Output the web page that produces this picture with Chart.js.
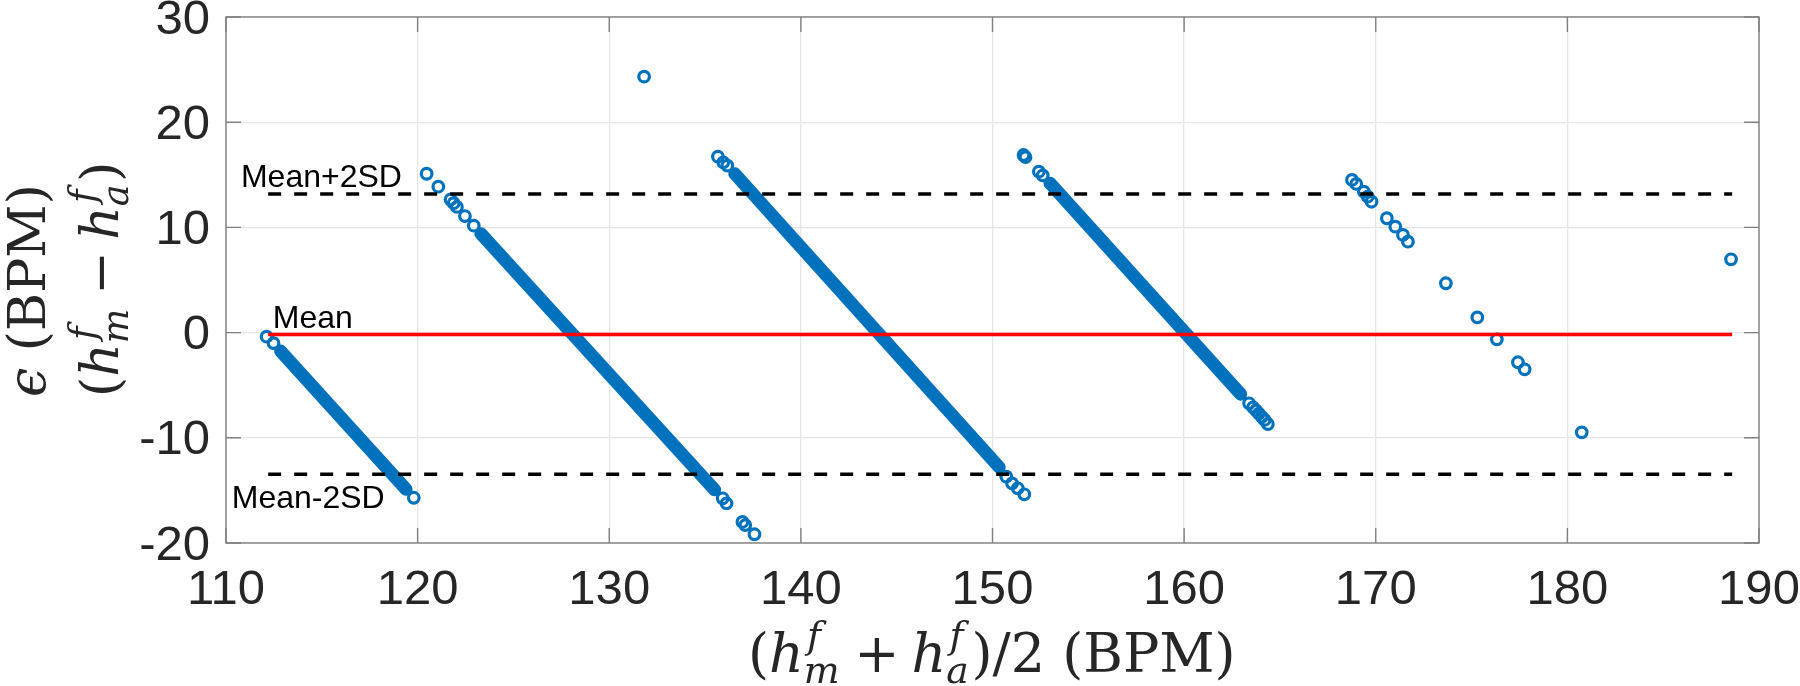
<!DOCTYPE html>
<html>
<head>
<meta charset="utf-8">
<script src="https://cdn.jsdelivr.net/npm/chart.js@4.4.1/dist/chart.umd.min.js"></script>
<style>
  html, body { margin: 0; padding: 0; background: #fff; }
</style>
</head>
<body>
<canvas id="baChart" width="1800" height="686"></canvas>
<script>
// axis ticks
const xTicks = [110, 120, 130, 140, 150, 160, 170, 180, 190];
const yTicks = [-20, -10, 0, 10, 20, 30];

// stretches where the markers overlap into a solid band (start / end of each)
const bandStartX = [112.85, 123.3, 136.55, 153.0];
const bandStartY = [-1.75, 9.4, 15.1, 14.2];
const bandEndX = [119.4, 135.5, 150.35, 162.95];
const bandEndY = [-14.9, -14.95, -12.8, -5.85];

// markers that can be seen on their own
const pointX = [
  112.12, 112.48, 119.8,
  120.47, 121.08, 121.72, 121.88, 122.05, 122.47, 122.93, 135.92, 136.12, 136.95, 137.1, 137.58,
  135.67, 135.95, 136.16, 150.72, 151.02, 151.32, 151.66,
  151.62, 151.72, 152.42, 152.62, 163.39, 163.6, 163.75, 163.9, 164.05, 164.2, 164.37,
  168.76, 168.98, 169.38, 169.58, 169.78, 170.58, 171.02, 171.42, 171.68, 173.66, 175.3, 176.32, 177.42, 177.77, 180.75,
  131.82, 188.54
];
const pointY = [
  -0.39, -1.0, -15.7,
  15.1, 13.87, 12.65, 12.3, 11.95, 11.08, 10.16, -15.75, -16.23, -18.0, -18.3, -19.17,
  16.72, 16.19, 15.87, -13.7, -14.33, -14.8, -15.37,
  16.88, 16.68, 15.3, 14.95, -6.72, -7.1, -7.4, -7.7, -8.0, -8.3, -8.69,
  14.51, 14.13, 13.39, 12.92, 12.44, 10.87, 10.07, 9.28, 8.64, 4.69, 1.45, -0.64, -2.82, -3.49, -9.48,
  24.33, 6.97
];

// mean and limits of agreement
const limitX = [112.2, 188.6];
const meanDiff = -0.17;
const upperLimit = 13.17;
const lowerLimit = -13.47;

// text labels next to the lines
const labelText = ['Mean+2SD', 'Mean', 'Mean-2SD'];
const labelX = [110.78, 112.44, 110.3];
const labelY = [13.84, 0.44, -16.7];

const BLUE = '#0072BD';
const sans = '"Liberation Sans", Arial, Helvetica, sans-serif';
const serif = '"DejaVu Serif", "Liberation Serif", serif';

function hLine(y) {
  return limitX.map(x => ({ x: x, y: y }));
}

const datasets = [
  { data: hLine(meanDiff), borderColor: '#ff0000', borderWidth: 3.5, showLine: true, pointRadius: 0, order: 0 },
  { data: hLine(upperLimit), borderColor: '#000', borderWidth: 3.5, borderDash: [13, 13], showLine: true, pointRadius: 0, order: 0 },
  { data: hLine(lowerLimit), borderColor: '#000', borderWidth: 3.5, borderDash: [13, 13], showLine: true, pointRadius: 0, order: 0 },
  {
    data: pointX.map((x, i) => ({ x: x, y: pointY[i] })),
    pointStyle: 'circle', pointRadius: 5.3, borderWidth: 3.2,
    borderColor: BLUE, backgroundColor: 'rgba(0,0,0,0)', showLine: false, order: 2
  }
];
bandStartX.forEach((x, i) => {
  datasets.push({
    data: [{ x: x, y: bandStartY[i] }, { x: bandEndX[i], y: bandEndY[i] }],
    borderColor: BLUE, borderWidth: 13, borderCapStyle: 'round',
    showLine: true, pointRadius: 0, order: 3
  });
});

// box round the plot with MATLAB style inward ticks
const boxAndTicks = {
  id: 'boxAndTicks',
  beforeDatasetsDraw(chart) {
    const { ctx, chartArea: a, scales: { x, y } } = chart;
    ctx.save();
    ctx.strokeStyle = '#808080';
    ctx.lineWidth = 1.4;
    ctx.strokeRect(a.left, a.top, a.right - a.left, a.bottom - a.top);
    ctx.beginPath();
    xTicks.forEach(v => {
      const px = x.getPixelForValue(v);
      ctx.moveTo(px, a.bottom); ctx.lineTo(px, a.bottom - 15);
      ctx.moveTo(px, a.top); ctx.lineTo(px, a.top + 15);
    });
    yTicks.forEach(v => {
      const py = y.getPixelForValue(v);
      ctx.moveTo(a.left, py); ctx.lineTo(a.left + 15, py);
      ctx.moveTo(a.right, py); ctx.lineTo(a.right - 15, py);
    });
    ctx.stroke();
    ctx.restore();
  }
};

const lineLabels = {
  id: 'lineLabels',
  afterDatasetsDraw(chart) {
    const { ctx, scales: { x, y } } = chart;
    ctx.save();
    ctx.fillStyle = '#000';
    ctx.font = '32px ' + sans;
    ctx.textAlign = 'left';
    ctx.textBaseline = 'alphabetic';
    labelText.forEach((t, i) => {
      ctx.fillText(t, x.getPixelForValue(labelX[i]), y.getPixelForValue(labelY[i]));
    });
    ctx.restore();
  }
};

// axis titles with sub/superscripts
function fontOf(size, it) {
  return (it ? 'italic ' : '') + size + 'px ' + serif;
}
function drawRich(ctx, parts, size, x0, y0) {
  let x = x0;
  parts.forEach(p => {
    if (p.sp !== undefined) { x += p.sp * size; return; }
    if (p.t !== undefined) {
      ctx.font = fontOf(size, p.it);
      ctx.fillText(p.t, x, y0);
      x += ctx.measureText(p.t).width;
      return;
    }
    ctx.font = fontOf(size * 0.7, true);
    ctx.fillText(p.sup, x + 0.06 * size, y0 - 0.45 * size);
    ctx.fillText(p.sub, x, y0 + 0.2 * size);
    x += Math.max(ctx.measureText(p.sup).width + 0.06 * size, ctx.measureText(p.sub).width) + 0.05 * size;
  });
  return x - x0;
}

const xTitle = [
  { t: '(' }, { t: 'h', it: true }, { sup: 'f', sub: 'm' }, { sp: 0.22 }, { t: '+' }, { sp: 0.22 },
  { t: 'h', it: true }, { sup: 'f', sub: 'a' }, { t: ')/2 (BPM)' }
];
const yTitle1 = [{ t: 'ϵ', it: true }, { t: ' (BPM)' }];
const yTitle2 = [
  { t: '(' }, { t: 'h', it: true }, { sup: 'f', sub: 'm' }, { sp: 0.22 }, { t: '−' }, { sp: 0.22 },
  { t: 'h', it: true }, { sup: 'f', sub: 'a' }, { t: ')' }
];

const axisTitles = {
  id: 'axisTitles',
  afterDraw(chart) {
    const ctx = chart.ctx;
    ctx.save();
    ctx.fillStyle = '#262626';
    ctx.textAlign = 'left';
    ctx.textBaseline = 'alphabetic';
    drawRich(ctx, xTitle, 54, 748, 672);
    ctx.save();
    ctx.translate(45, 397);
    ctx.rotate(-Math.PI / 2);
    drawRich(ctx, yTitle1, 52, 0, 0);
    ctx.restore();
    ctx.save();
    ctx.translate(118, 397);
    ctx.rotate(-Math.PI / 2);
    drawRich(ctx, yTitle2, 52, 0, 0);
    ctx.restore();
    ctx.restore();
  }
};

new Chart(document.getElementById('baChart'), {
  type: 'scatter',
  data: { datasets: datasets },
  options: {
    responsive: false,
    animation: false,
    devicePixelRatio: 1,
    events: [],
    layout: { padding: { top: 17, right: 41, left: 0, bottom: 0 } },
    plugins: { legend: { display: false }, tooltip: { enabled: false } },
    scales: {
      x: {
        type: 'linear', min: 110, max: 190,
        afterBuildTicks: s => { s.ticks = xTicks.map(v => ({ value: v })); },
        afterFit: s => { s.height = 143; s.paddingLeft = 0; s.paddingRight = 0; },
        grid: { color: '#e6e6e6', lineWidth: 1.3, drawTicks: false },
        border: { display: false },
        ticks: {
          color: '#262626', padding: 18, maxRotation: 0, autoSkip: false,
          font: { family: sans, size: 49, lineHeight: 1.2 }
        }
      },
      y: {
        type: 'linear', min: -20, max: 30,
        afterBuildTicks: s => { s.ticks = yTicks.map(v => ({ value: v })); },
        afterFit: s => { s.width = 226; s.paddingTop = 0; s.paddingBottom = 0; },
        grid: { color: '#e6e6e6', lineWidth: 1.3, drawTicks: false },
        border: { display: false },
        ticks: {
          color: '#262626', padding: 16, autoSkip: false, labelOffset: 3,
          font: { family: sans, size: 49, lineHeight: 1.2 }
        }
      }
    }
  },
  plugins: [boxAndTicks, lineLabels, axisTitles]
});
</script>
</body>
</html>
